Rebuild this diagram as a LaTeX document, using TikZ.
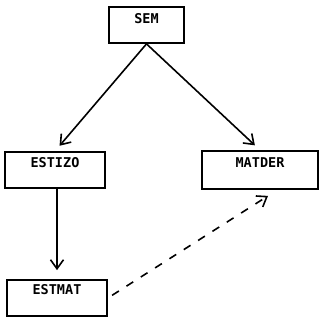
\documentclass[tikz,border=0pt]{standalone}
\usepackage{fontspec}
\setmonofont{DejaVu Sans Mono}
\usetikzlibrary{arrows.meta,calc}
\begin{document}
\begin{tikzpicture}[x=1pt,y=1pt,
  box/.style={draw,line width=1.8pt,inner xsep=0pt,inner ysep=0pt,
    font=\ttfamily\bfseries\fontsize{13.5}{15}\selectfont},
  arr/.style={line width=1.6pt,-{Straight Barb[length=9pt,width=13pt]}},
  dasharr/.style={arr,dash pattern=on 8pt off 9pt}]
\useasboundingbox (0,0) rectangle (320,321);
\node[box,minimum width=75pt,text height=17pt,text depth=19pt] (sem) at (146.5,296) {SEM};
\node[box,minimum width=100pt,text height=16pt,text depth=20pt] (estizo) at (55,151) {ESTIZO};
\node[box,minimum width=116pt,text height=17pt,text depth=21pt] (matder) at (260,151) {MATDER};
\node[box,minimum width=100pt,text height=15pt,text depth=21pt] (estmat) at (57,23) {ESTMAT};
\draw[arr,shorten >=7pt] (sem.south) -- (estizo.north);
\draw[arr,shorten >=7pt] (sem.south) -- (matder.north);
\draw[arr,shorten >=9pt] (estmat.north |- estizo.south) -- (estmat.north);
\coordinate (dend) at ($(matder.south)+(8,-6)$);
\draw[dasharr,shorten <=5pt] (estmat.east) -- (dend);
\end{tikzpicture}
\end{document}
